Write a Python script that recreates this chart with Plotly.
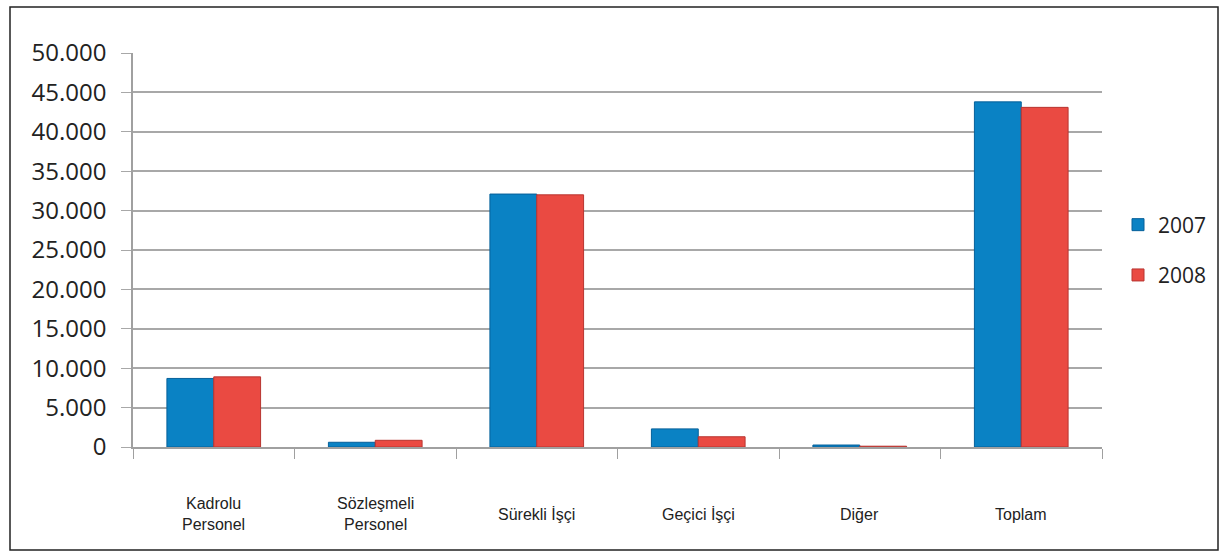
import plotly.graph_objects as go

categories = ["Kadrolu<br>Personel", "Sözleşmeli<br>Personel", "Sürekli İşçi", "Geçici İşçi", "Diğer", "Toplam"]
values_2007 = [8700, 600, 32100, 2300, 250, 43800]
values_2008 = [8900, 850, 32000, 1300, 100, 43100]
y_ticks = [0, 5000, 10000, 15000, 20000, 25000, 30000, 35000, 40000, 45000, 50000]
y_tick_labels = ["0", "5.000", "10.000", "15.000", "20.000", "25.000", "30.000", "35.000", "40.000", "45.000", "50.000"]

W, H = 1222, 555
L, R, T, B = 133, 1102, 53, 447

fig = go.Figure()
fig.add_trace(go.Bar(name="2007", x=categories, y=values_2007, legendgroup="a",
                     marker=dict(color="#0a82c4", line=dict(color="#06609a", width=1))))
fig.add_trace(go.Bar(name="2008", x=categories, y=values_2008, legendgroup="b",
                     marker=dict(color="#ea4a42", line=dict(color="#b83530", width=1))))

pw = R - L
ph = B - T
fig.add_shape(type="rect", xref="paper", yref="paper",
              x0=(10 - L) / pw, x1=(1218 - L) / pw,
              y0=(B - 550) / ph, y1=(B - 7) / ph,
              line=dict(color="#222222", width=1.5), fillcolor="rgba(0,0,0,0)", layer="below")

# category labels, vertically centred like the original
for c in categories:
    fig.add_annotation(x=c, xref="x", y=(B - 514) / ph, yref="paper",
                       text=c, showarrow=False, xanchor="center", yanchor="middle",
                       font=dict(family="Liberation Sans", size=16, color="#222"))

fig.update_layout(
    width=W, height=H,
    margin=dict(l=L, r=W - R, t=T, b=H - B, pad=0, autoexpand=False),
    paper_bgcolor="white", plot_bgcolor="white",
    barmode="group", bargap=0.42, bargroupgap=0,
    legend=dict(x=(1118 - L) / pw, y=0.5, xanchor="left", yanchor="middle",
                font=dict(family="Open Sans", size=21, color="#222"),
                traceorder="grouped", tracegroupgap=20, itemwidth=30,
                bgcolor="rgba(0,0,0,0)"),
    showlegend=True,
    xaxis=dict(showline=True, linecolor="#a0a0a0", linewidth=1.5,
               ticks="outside", tickson="boundaries", ticklen=10, tickcolor="#a0a0a0",
               showticklabels=False),
    yaxis=dict(range=[0, 50000], tickvals=y_ticks, ticktext=y_tick_labels,
               showgrid=True, gridcolor="#a8a8a8", gridwidth=1.5,
               showline=True, linecolor="#a0a0a0", linewidth=1.5,
               ticks="outside", ticklen=10, tickcolor="#a8a8a8",
               tickfont=dict(family="Open Sans", size=24, color="#222"),
               zeroline=False, ticklabelstandoff=10),
)

fig.write_html("out.html", config={"displayModeBar": False},
               post_script="document.body.style.margin='0';")
